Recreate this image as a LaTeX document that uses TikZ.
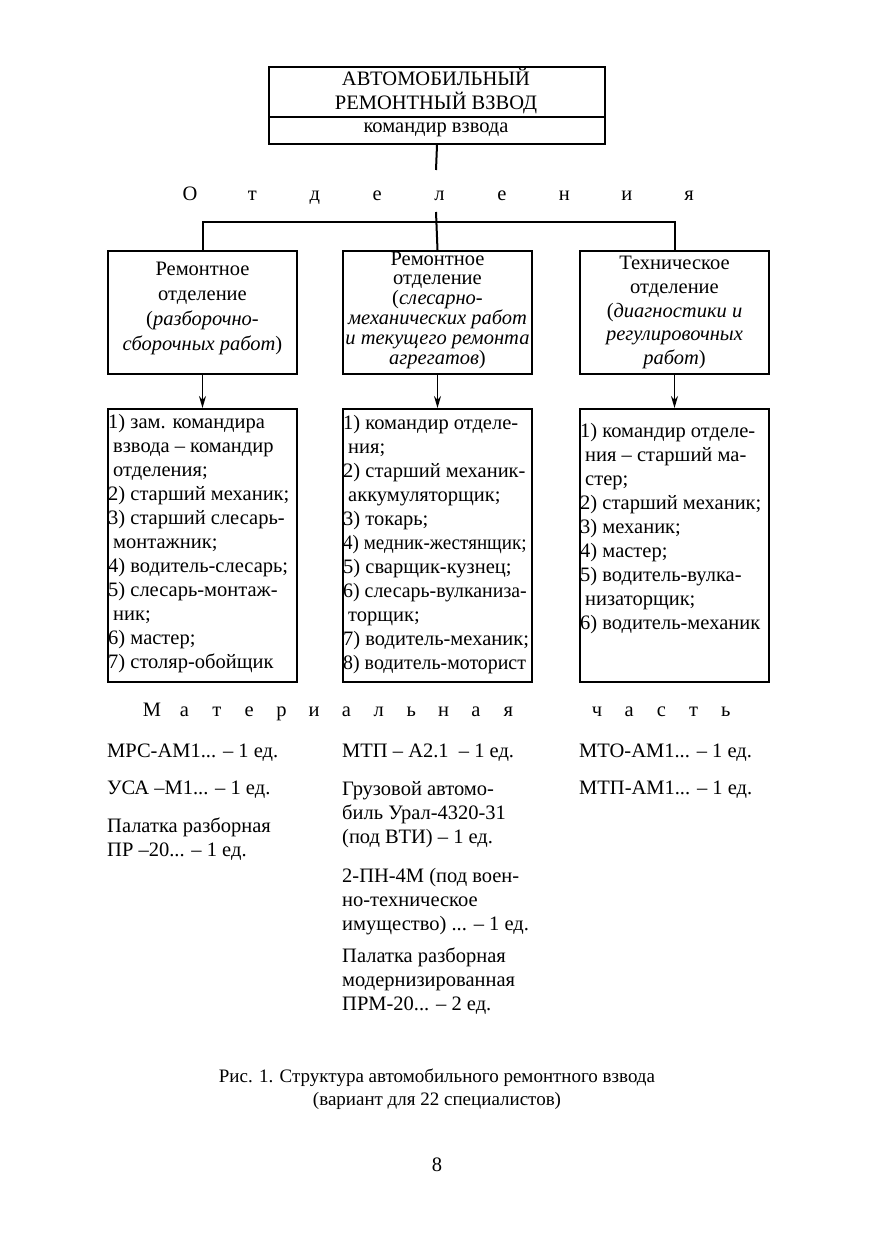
\documentclass[tikz,border=0pt]{standalone}
\usepackage{fontspec}
\setmainfont{Liberation Serif}
\usetikzlibrary{arrows.meta}
\newcommand{\narrow}[2]{{\addfontfeature{FakeStretch=#1}#2}}
\begin{document}
\begin{tikzpicture}[x=1pt,y=-1pt,
  box/.style={draw, line width=2pt, inner sep=0pt, anchor=north west},
  txt/.style={font=\fontsize{20.5}{24}\selectfont, inner sep=0pt},
  ctr/.style={txt, align=center},
  lst/.style={txt, align=left, anchor=north west},
  ltr/.style={txt, anchor=base},
  arr/.style={line width=1.6pt, -{Stealth[length=12pt,width=7pt]}},
  con/.style={line width=2pt}]
\useasboundingbox (0,0) rectangle (875,1241);
\fill[white] (0,0) rectangle (875,1241);

% top box
\node[box, minimum width=336pt, minimum height=77pt] (top) at (268,66) {};
\draw[con] (top.west |- 0,117) -- (top.east |- 0,117);
\node[ctr] (toptitle) at (436,91) {АВТОМОБИЛЬНЫЙ\\РЕМОНТНЫЙ ВЗВОД};
\node[txt] (topcmd) at (436,130) {командир взвода};

% spaced word
\foreach \c [count=\i from 0] in {О,т,д,е,л,е,н,и,я}
  \node[ltr] (otd\i) at (190+62.4*\i,201) {\c};

% department boxes
\node[box, minimum width=189pt, minimum height=123pt] (b1) at (107,250) {};
\node[box, minimum width=189pt, minimum height=123pt] (b2) at (342,250) {};
\node[box, minimum width=189pt, minimum height=123pt] (b3) at (579,250) {};

\node[ctr, font=\fontsize{20.5}{25}\selectfont] (b1t) at (b1.center) [yshift=4pt] {Ремонтное\\отделение\\(\textit{разборочно-}\\\textit{сборочных работ})};
\node[ctr, font=\fontsize{20.5}{19.8}\selectfont] (b2t) at (b2.center) [yshift=2.5pt] {Ремонтное\\отделение\\(\textit{слесарно-}\\\textit{механических работ}\\\textit{и текущего ремонта}\\\textit{агрегатов})};
\node[ctr, font=\fontsize{20.5}{23.8}\selectfont] (b3t) at (b3.center) {Техническое\\отделение\\(\textit{диагностики и}\\\textit{регулировочных}\\\textit{работ})};

% connectors
\coordinate (a1) at (436,170);
\coordinate (a2) at (436,212);
\coordinate (j) at (436,222);
\draw[con] (top.south) -- (a1);
\draw[con] (a2) -- (b2.north);
\draw[con] (b1.north) -- (b1.north |- j) -- (b3.north |- j) -- (b3.north);

% list boxes
\node[box, minimum width=189pt, minimum height=273pt] (l1) at (107,408) {};
\node[box, minimum width=189pt, minimum height=273pt] (l2) at (342,408) {};
\node[box, minimum width=189pt, minimum height=273pt] (l3) at (579,408) {};

\draw[arr] (b1.south) -- (l1.north);
\draw[arr] (b2.south) -- (l2.north);
\draw[arr] (b3.south) -- (l3.north);

\node[lst] (l1t) at (108,414) {1) зам. командира\\\hspace*{5pt}взвода – командир\\\hspace*{5pt}отделения;\\2) старший механик;\\3) старший слесарь-\\\hspace*{5pt}монтажник;\\4) водитель-слесарь;\\5) слесарь-монтаж-\\\hspace*{5pt}ник;\\6) мастер;\\7) столяр-обойщик};
\node[lst] (l2t) at (343,415) {1) командир отделе-\\\hspace*{5pt}ния;\\2) старший механик-\\\hspace*{5pt}аккумуляторщик;\\3) токарь;\\\narrow{0.93}{4) медник-жестянщик;}\\5) сварщик-кузнец;\\\narrow{0.97}{6) слесарь-вулканиза-}\\\hspace*{5pt}торщик;\\7) водитель-механик;\\\narrow{0.97}{8) водитель-моторист}};
\node[lst] (l3t) at (580,423) {1) командир отделе-\\\hspace*{5pt}ния – старший ма-\\\hspace*{5pt}стер;\\2) старший механик;\\3) механик;\\4) мастер;\\5) водитель-вулка-\\\hspace*{5pt}низаторщик;\\6) водитель-механик};

% material part heading
\foreach \c [count=\i from 0] in {М,а,т,е,р,и,а,л,ь,н,а,я}
  \node[ltr] (mat\i) at (152+32.4*\i,716) {\c};
\foreach \c [count=\i from 0] in {ч,а,с,т,ь}
  \node[ltr] (ch\i) at (597+32.2*\i,716) {\c};

% material items
\node[lst] (m1) at (107,744) {МРС-АМ1... – 1 ед.};
\node[lst] (m2) at (107,781) {УСА –М1... – 1 ед.};
\node[lst] (m3) at (107,818) {Палатка разборная\\ПР –20... – 1 ед.};
\node[lst] (m4) at (342,744) {МТП – А2.1 \ – 1 ед.};
\node[lst] (m5) at (342,781) {Грузовой автомо-\\биль Урал-4320-31\\(под ВТИ) – 1 ед.};
\node[lst] (m6) at (342,868) {2-ПН-4М (под воен-\\но-техническое\\имущество) ... – 1 ед.};
\node[lst] (m7) at (342,948) {Палатка разборная\\модернизированная\\ПРМ-20... – 2 ед.};
\node[lst] (m8) at (579,744) {МТО-АМ1... – 1 ед.};
\node[lst] (m9) at (579,781) {МТП-АМ1... – 1 ед.};

% caption
\node[ctr, font=\fontsize{19}{23}\selectfont] (cap) at (437,1089) {Рис. 1. Структура автомобильного ремонтного взвода\\(вариант для 22 специалистов)};
\node[txt] (page) at (437,1165) {8};
\end{tikzpicture}
\end{document}
